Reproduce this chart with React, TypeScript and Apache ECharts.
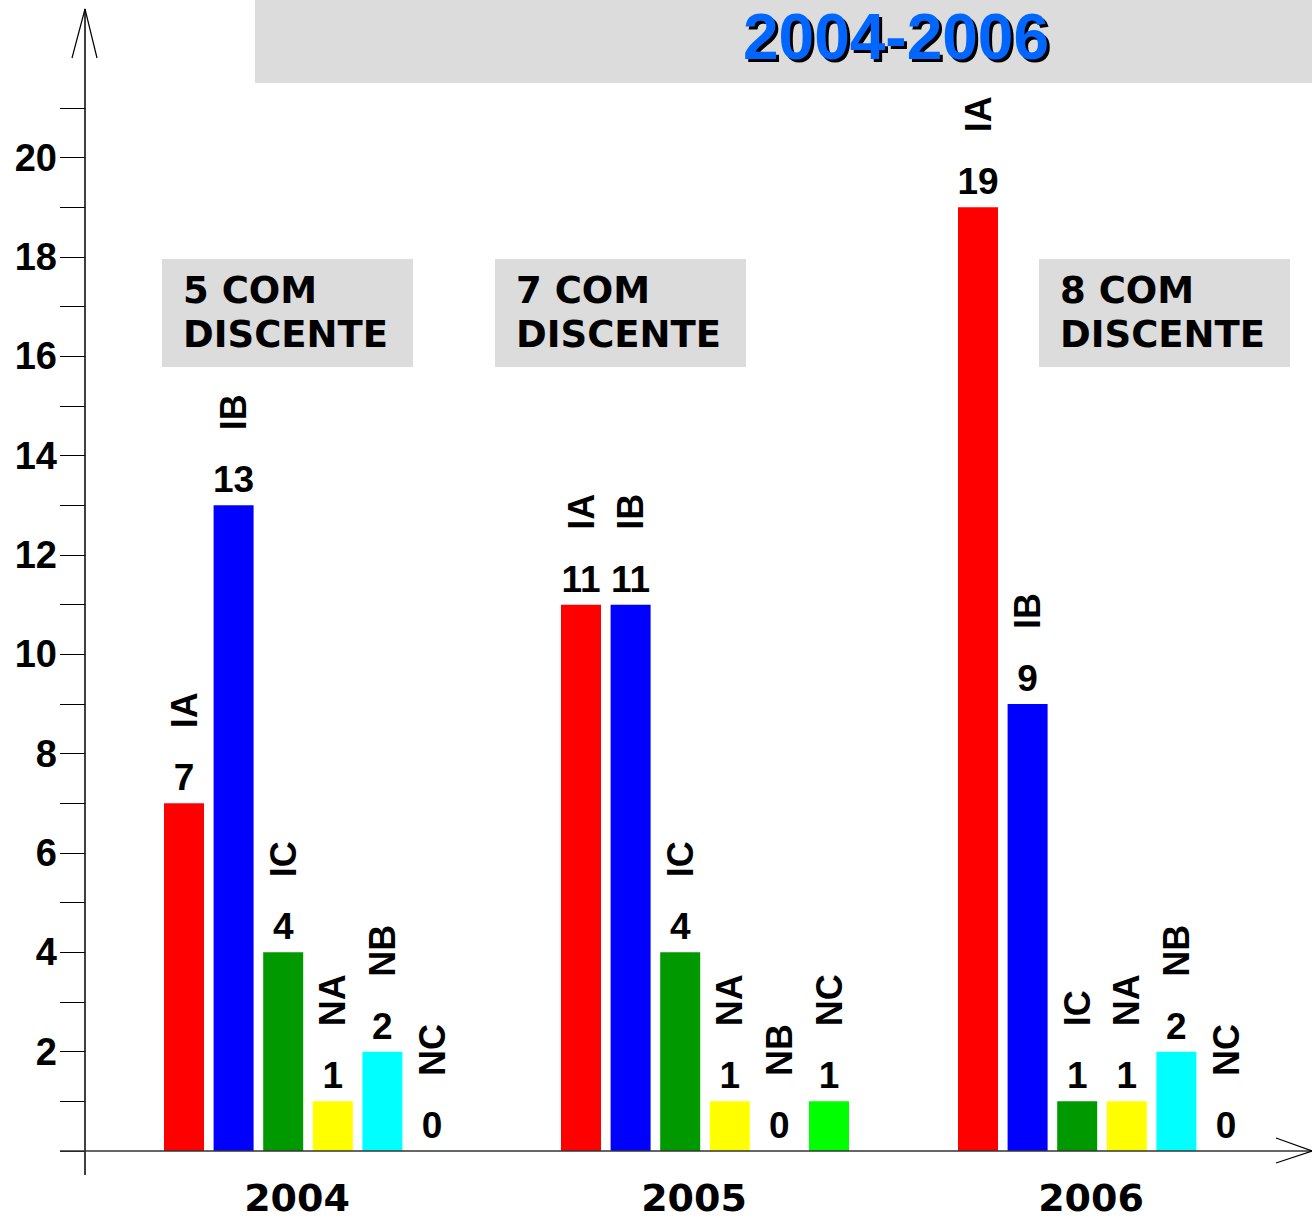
import React, { useEffect, useRef } from "react";
import * as echarts from "echarts";

// ---- data ----
const years = ["2004", "2005", "2006"];
const seriesNames = ["IA", "IB", "IC", "NA", "NB", "NC"];
const IA = [7, 11, 19];
const IB = [13, 11, 9];
const IC = [4, 4, 1];
const NA = [1, 1, 1];
const NB = [2, 0, 2];
const NC = [0, 1, 0];
const seriesValues = [IA, IB, IC, NA, NB, NC];
const seriesColors = ["#ff0000", "#0000ff", "#009900", "#ffff00", "#00ffff", "#00ff00"];
const yLabelValues = [2, 4, 6, 8, 10, 12, 14, 16, 18, 20];
const titleText = "2004-2006";
const notes = ["5 COM\nDISCENTE", "7 COM\nDISCENTE", "8 COM\nDISCENTE"];

const FONT = "'Liberation Sans', Arial, Helvetica, sans-serif";
const WIDE_FONT = "'DejaVu Sans', 'Liberation Sans', sans-serif";

export default function App() {
  const ref = useRef<HTMLDivElement>(null);

  useEffect(() => {
    if (!ref.current) return;
    const chart = echarts.init(ref.current, undefined, { renderer: "svg" });

    const gridLeft = 109.5;
    const axisOffset = 24.5;
    const axisX = gridLeft - axisOffset;

    const barCommon = { type: "bar", barWidth: 40, barGap: "24%" };

    const valueSeries = seriesNames.map((n, i) => ({
      ...barCommon,
      name: n,
      xAxisIndex: 0,
      yAxisIndex: 0,
      data: seriesValues[i],
      itemStyle: { color: seriesColors[i] },
      label: {
        show: true,
        position: "top",
        distance: 7,
        color: "#000",
        fontSize: 37,
        fontWeight: "bold",
        fontFamily: FONT,
      },
    }));

    const nameSeries = seriesNames.map((n, i) => ({
      ...barCommon,
      name: n + "-label",
      xAxisIndex: 1,
      yAxisIndex: 0,
      data: seriesValues[i],
      itemStyle: { color: "rgba(0,0,0,0)" },
      silent: true,
      label: {
        show: true,
        position: "top",
        distance: 75,
        rotate: 90,
        align: "left",
        verticalAlign: "middle",
        formatter: () => n,
        color: "#000",
        fontSize: 36,
        fontWeight: "bold",
        fontFamily: FONT,
      },
    }));

    const option: any = {
      animation: false,
      backgroundColor: "#ffffff",
      grid: { left: gridLeft, right: 11.5, top: 108, bottom: 69, containLabel: false },
      xAxis: [
        {
          type: "category",
          data: years,
          axisLine: { show: false },
          axisTick: { show: false },
          splitLine: { show: false },
          axisLabel: {
            color: "#000",
            fontSize: 38,
            lineHeight: 30,
            fontWeight: "bold",
            fontFamily: WIDE_FONT,
            margin: 32,
            padding: [0, 22, 0, 0],
          },
        },
        { type: "category", data: years, show: false },
      ],
      yAxis: {
        type: "value",
        min: 0,
        max: 21,
        interval: 1,
        offset: axisOffset,
        axisLine: { show: false },
        axisTick: { show: true, length: 25, lineStyle: { color: "#000", width: 1 } },
        splitLine: { show: false },
        axisLabel: {
          color: "#000",
          fontSize: 38,
          fontWeight: "bold",
          fontFamily: FONT,
          margin: 28,
          formatter: (v: number) => (yLabelValues.indexOf(v) >= 0 ? String(v) : ""),
        },
      },
      series: [...valueSeries, ...nameSeries],
    };

    chart.setOption(option);

    const y0 = chart.convertToPixel({ yAxisIndex: 0 }, 0) as number;

    const titleStyle = {
      text: titleText,
      fontSize: 64,
      fontWeight: "bold",
      fontFamily: FONT,
      align: "center",
      verticalAlign: "top",
    };

    const noteBoxes = [162, 495, 1039];
    const graphic: any[] = [
      {
        type: "rect",
        z: 0,
        shape: { x: 255, y: 0, width: 1312 - 255, height: 83 },
        style: { fill: "#dcdcdc" },
      },
      {
        type: "text",
        z: 1,
        x: 899,
        y: 8,
        silent: true,
        style: { ...titleStyle, fill: "#000000" },
      },
      {
        type: "text",
        z: 2,
        x: 896,
        y: 5,
        style: { ...titleStyle, fill: "#0066ff" },
      },
      // y axis line + arrow
      {
        type: "line",
        z: 5,
        shape: { x1: axisX, y1: y0 + 24, x2: axisX, y2: 9 },
        style: { stroke: "#000", lineWidth: 1.5 },
      },
      {
        type: "polyline",
        z: 5,
        shape: { points: [[axisX - 13, 58], [axisX, 9], [axisX + 12, 58]] },
        style: { stroke: "#000", lineWidth: 1.2, fill: null },
      },
      // x axis line + arrow
      {
        type: "line",
        z: 5,
        shape: { x1: 60, y1: y0, x2: 1312, y2: y0 },
        style: { stroke: "#333", lineWidth: 1.5 },
      },
      {
        type: "polyline",
        z: 5,
        shape: { points: [[1276, y0 - 13], [1312, y0], [1276, y0 + 12]] },
        style: { stroke: "#000", lineWidth: 1.2, fill: null },
      },
    ];

    notes.forEach((t, i) => {
      graphic.push({
        type: "rect",
        z: 1,
        shape: { x: noteBoxes[i], y: 259, width: 251, height: 108 },
        style: { fill: "#dcdcdc" },
      });
      graphic.push({
        type: "text",
        z: 2,
        x: noteBoxes[i] + 21,
        y: 268,
        style: {
          text: t,
          fill: "#000",
          fontSize: 37,
          lineHeight: 44,
          fontWeight: "bold",
          fontFamily: WIDE_FONT,
          align: "left",
          verticalAlign: "top",
        },
      });
    });

    chart.setOption({ graphic });

    return () => chart.dispose();
  }, []);

  return (
    <div
      ref={ref}
      style={{ position: "absolute", left: 0, top: 0, width: 1312, height: 1220 }}
    />
  );
}
